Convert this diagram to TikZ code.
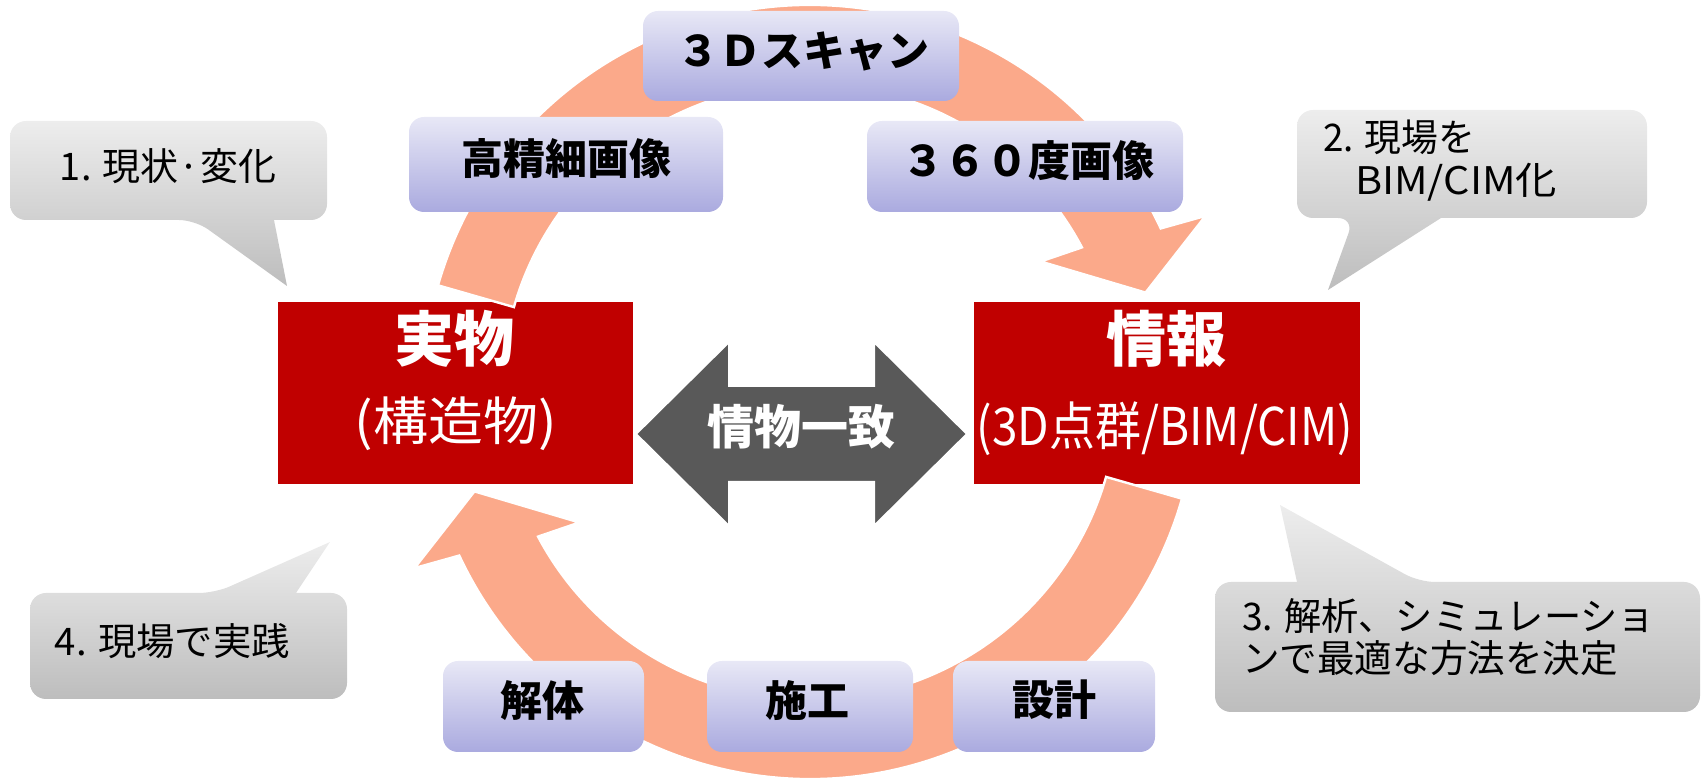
\documentclass[tikz,border=0pt]{standalone}
\usepackage{fontspec}
\setmainfont{Noto Sans CJK JP}
\usepackage{graphicx}
\definecolor{redc}{HTML}{C00000}
\definecolor{ringc}{HTML}{FBA98A}
\definecolor{darkc}{HTML}{595959}
\definecolor{ptop}{HTML}{E8E8F6}
\definecolor{pbot}{HTML}{AAAADF}
\definecolor{gtop}{HTML}{EDEDED}
\definecolor{gbot}{HTML}{BDBDBD}
\newcommand{\fitw}[2]{\resizebox{#1}{\height}{#2}}
\tikzset{
  redbox/.style={fill=redc, draw=none, inner sep=0pt},
  pbox/.style={rounded corners=7.5pt, top color=ptop, bottom color=pbot, draw=none, inner sep=0pt},
  ptext/.style={inner sep=0pt, font=\fontsize{21}{25}\selectfont\bfseries, text=black},
  rtitle/.style={inner sep=0pt, font=\fontsize{30}{36}\selectfont\bfseries, text=white},
  rsub/.style={inner sep=0pt, font=\fontsize{26}{31}\selectfont, text=white},
  ctext/.style={inner sep=0pt, font=\fontsize{19}{23}\selectfont, text=black},
  callout/.style={top color=gtop, bottom color=gbot, draw=none},
  ring/.style={fill=ringc, draw=white, line width=1.2pt, line join=miter},
}
\begin{document}
\begin{tikzpicture}[x=0.5pt,y=-0.5pt]
\useasboundingbox (0,0) rectangle (1704,779);

% red boxes
\node[redbox, minimum width=177.5pt, minimum height=91pt] (real) at (455.5,393) {};
\node[redbox, minimum width=193pt, minimum height=91pt] (info) at (1167,393) {};

% cycle arrows
\begin{scope}[shift={(810,392)}]
\path[ring] (-164:387) arc[start angle=-164, end angle=-25, radius=387]
  -- (-24:433) -- (-16.5:350) -- (-29.5:265) -- (-28:308)
  arc[start angle=-28, end angle=-164, radius=308] -- cycle;
\path[ring] (16:387) arc[start angle=16, end angle=155, radius=387]
  -- (156:433) -- (163.5:350) -- (150.5:265) -- (152:308)
  arc[start angle=152, end angle=16, radius=308] -- cycle;
\end{scope}

% double arrow
\path[fill=darkc, draw=white, line width=1pt] (636,434) -- (729,342) -- (729,386) -- (874,386) -- (874,342)
  -- (967,434) -- (874,526) -- (874,482) -- (729,482) -- (729,526) -- cycle;
\node[inner sep=0pt, font=\fontsize{23.5}{28}\selectfont\bfseries, text=white] (match) at (801.5,426.5) {情物一致};

% red box texts
\node[rtitle] (realt) at (454,338.5) {実物};
\node[rsub] (reals) at (456,423.5) {\fitw{101pt}{(構造物)}};
\node[rtitle] (infot) at (1166.5,338.5) {情報};
\node[rsub] (infos) at (1165,428.5) {\fitw{188pt}{(3D点群/BIM/CIM)}};

% purple boxes
\node[pbox, minimum width=158pt, minimum height=45pt] (scanb) at (801,56) {};
\node[ptext] (scant) at (803,51.5) {３Ｄスキャン};
\node[pbox, minimum width=157pt, minimum height=47.5pt] (hdb) at (566,164.5) {};
\node[ptext] (hdt) at (566,158.5) {高精細画像};
\node[pbox, minimum width=158pt, minimum height=45.5pt] (panb) at (1025,166.5) {};
\node[ptext] (pant) at (1028,160.5) {３６０度画像};
\node[pbox, minimum width=100.5pt, minimum height=45.5pt] (demb) at (543.5,706.5) {};
\node[ptext] (demt) at (542.5,701) {解体};
\node[pbox, minimum width=103pt, minimum height=45.5pt] (conb) at (810,706.5) {};
\node[ptext] (cont) at (807.5,701) {施工};
\node[pbox, minimum width=101pt, minimum height=45.5pt] (desb) at (1054,706.5) {};
\node[ptext] (dest) at (1054,700) {設計};

% callouts
\shade[callout] (287,286) -- (274,220) [rounded corners=8pt] -- (327,220) -- (327,121) -- (10,121) -- (10,220) -- (195,220) [sharp corners] -- cycle;
\node[ctext] (c1) at (168,166) {\fitw{108pt}{1. 現状·変化}};

\shade[callout] (1328,290) -- (1441,218) [rounded corners=8pt] -- (1647,218) -- (1647,110) -- (1297,110) -- (1297,218) -- (1354,218) [sharp corners] -- cycle;
\node[ctext] (c2a) at (1399,137) {\fitw{76pt}{2. 現場を}};
\node[ctext] (c2b) at (1456,182.5) {\fitw{101pt}{BIM/CIM化}};

\shade[callout] (1280,505) -- (1297,582) [rounded corners=8pt] -- (1215,582) -- (1215,712) -- (1700,712) -- (1700,582) -- (1419,582) [sharp corners] -- cycle;
\node[ctext] (c3a) at (1448.5,616) {\fitw{206.5pt}{3. 解析、シミュレーショ}};
\node[ctext] (c3b) at (1430,658.5) {\fitw{188pt}{ンで最適な方法を決定}};

\shade[callout] (330,542) -- (296,593) [rounded corners=8pt] -- (347,593) -- (347,699) -- (30,699) -- (30,593) -- (215,593) [sharp corners] -- cycle;
\node[ctext] (c4) at (172.5,641) {\fitw{117.5pt}{4. 現場で実践}};
\end{tikzpicture}
\end{document}
